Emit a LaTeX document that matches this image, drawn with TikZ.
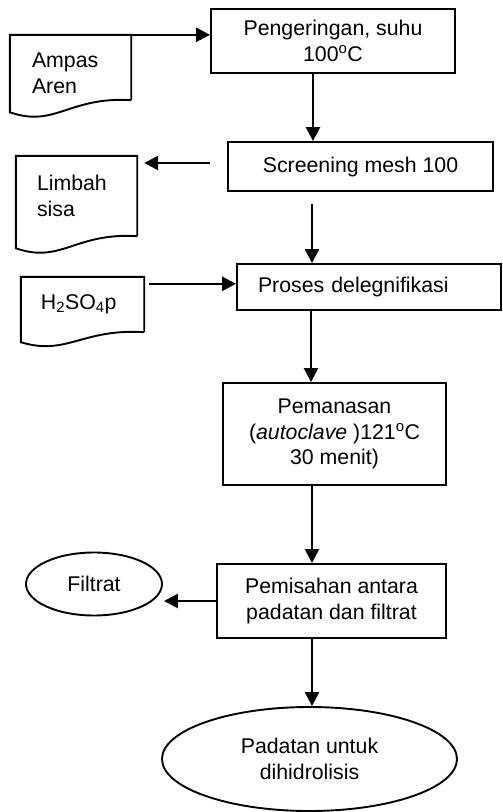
\documentclass[tikz,border=0pt]{standalone}
\usepackage{fontspec}
\setmainfont{Liberation Sans}
\usetikzlibrary{arrows.meta,shapes.geometric}
\tikzset{
  box/.style={draw, line width=1.9pt, rectangle, inner sep=0pt, align=center,
    font=\fontsize{21.3}{25.5}\selectfont},
  doc/.style={rectangle, inner sep=0pt, align=left,
    font=\fontsize{21.3}{25.5}\selectfont},
  docline/.style={line width=1.9pt, line join=miter},
  oval/.style={draw, line width=1.9pt, ellipse, inner sep=0pt, align=center,
    font=\fontsize{21.3}{25.5}\selectfont},
  arr/.style={line width=2.6pt, -{Triangle[length=14pt,width=14pt]}}
}
\begin{document}
\begin{tikzpicture}[x=1pt,y=-1pt]
\useasboundingbox (0,0) rectangle (503,812);
% process boxes
\node[box, minimum width=244pt, minimum height=64pt] (peng) at (333,41) {Pengeringan, suhu\\100\textsuperscript{o}C};
\node[box, minimum width=265pt, minimum height=49pt] (screen) at (360.5,166.5) {Screening mesh 100};
\node[box, minimum width=264pt, minimum height=46pt, text width=222pt, inner xsep=21pt, align=left] (proses) at (369,287) {Proses delegnifikasi};
\node[box, minimum width=223pt, minimum height=102pt] (pemanas) at (334.5,434) {Pemanasan\\(\textit{autoclave} )121\textsuperscript{o}C\\30 menit)};
\node[box, minimum width=229pt, minimum height=74pt] (pemisah) at (331.5,601) {Pemisahan antara\\padatan dan filtrat};
\node[oval, minimum width=136pt, minimum height=63pt] (filtrat) at (94,584) {Filtrat};
\node[oval, minimum width=295pt, minimum height=104pt] (padatan) at (309.5,759) {Padatan untuk\\dihidrolisis};
% document shapes
\node[doc, minimum width=121pt, minimum height=65pt, text width=77pt, inner xsep=22pt] (ampas) at (70.5,67.5) {\rule{0pt}{26pt}Ampas\\Aren};
\draw[docline] (ampas.south east) -- (ampas.north east) -- (ampas.north west) -- ([yshift=-12pt]ampas.south west)
  .. controls +(45,16) and +(-62,-4) .. (ampas.south east);
\node[doc, minimum width=121pt, minimum height=80pt, text width=79pt, inner xsep=21pt] (limbah) at (76.5,196) {Limbah\\sisa};
\draw[docline] (limbah.south east) -- (limbah.north east) -- (limbah.north west) -- ([yshift=-12pt]limbah.south west)
  .. controls +(45,16) and +(-62,-4) .. (limbah.south east);
\node[doc, minimum width=123pt, minimum height=55pt, text width=83pt, inner xsep=20pt, anchor=center] (h2so4) at (82.5,304.5) {\raisebox{4pt}{H\textsubscript{2}SO\textsubscript{4}p}};
\draw[docline] (h2so4.south east) -- (h2so4.north east) -- (h2so4.north west) -- ([yshift=-10pt]h2so4.south west)
  .. controls +(46,14) and +(-62,-4) .. (h2so4.south east);
% connectors
\draw[arr] (ampas.north east) -- (ampas.north east -| peng.west);
\draw[arr] ([xshift=-20pt]peng.south) -- ([xshift=-20pt]peng.south |- screen.north);
\draw[arr] ([xshift=-17pt,yshift=3.5pt]screen.west) -- ([xshift=7pt,yshift=3.5pt]limbah.east |- screen.west);
\draw[arr] ([xshift=-48.5pt,yshift=-12pt]screen.south) -- ([xshift=-48.5pt]screen.south |- proses.north);
\draw[arr] ([xshift=5pt,yshift=-7pt]h2so4.north east) -- ([yshift=-7pt]h2so4.north east -| proses.west);
\draw[arr] ([xshift=-58pt]proses.south) -- ([xshift=-58pt]proses.south |- pemanas.north);
\draw[arr] ([xshift=-22.5pt]pemanas.south) -- ([xshift=-22.5pt]pemanas.south |- pemisah.north);
\draw[arr] (pemisah.west) -- ([xshift=1pt]filtrat.east |- pemisah.west);
\draw[arr] ([xshift=-19.5pt]pemisah.south) -- ([xshift=-19.5pt]pemisah.south |- padatan.north);
\end{tikzpicture}
\end{document}
